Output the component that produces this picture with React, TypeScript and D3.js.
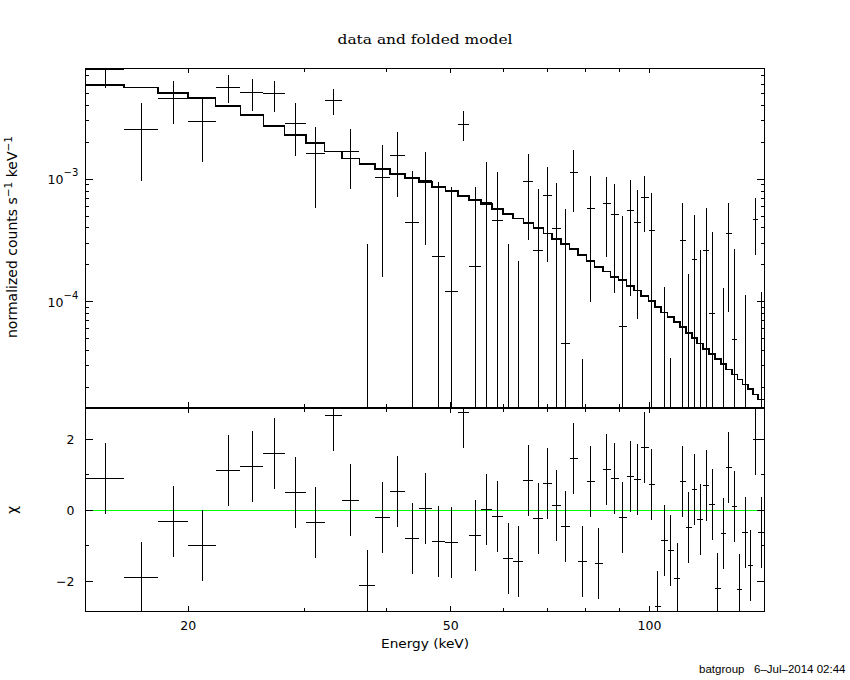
import React from "react";
import * as d3 from "d3";

// Energy bin edges (keV)
const energyEdges = [
  14, 16, 18, 20, 22, 24, 26, 28, 30.16, 32.18, 34.19, 36.35, 38.4, 40.46,
  42.64, 44.72, 46.84, 49.07, 51.24, 53.3, 55.58, 57.75, 60.01, 62.08, 64.41,
  66.7, 69.07, 71.2, 73.4, 75.67, 77.92, 80.29, 82.56, 85.02, 87.3, 89.77,
  92.31, 94.73, 97.07, 99.68, 101.93, 104.09, 106.51, 109.03, 111.18, 113.65,
  115.93, 118.1, 120.6, 123.15, 125.75, 128.28, 130.67, 133.3, 135.93, 138.33,
  141.11, 143.44, 146.12, 150,
];

// Folded model, units of 1e-3 counts s^-1 keV^-1
const modelRate = [
  5.89, 5.6, 5.07, 4.59, 3.99, 3.35, 2.73, 2.3, 1.97, 1.69, 1.48, 1.33, 1.21,
  1.105, 1.025, 0.951, 0.865, 0.798, 0.731, 0.678, 0.628, 0.572, 0.521, 0.48,
  0.437, 0.398, 0.362, 0.325, 0.296, 0.268, 0.241, 0.215, 0.193, 0.176, 0.16,
  0.15, 0.135, 0.123, 0.111, 0.1013, 0.091, 0.0819, 0.0754, 0.0679, 0.0618,
  0.0558, 0.0508, 0.0454, 0.0413, 0.0374, 0.034, 0.0311, 0.028, 0.0255, 0.0232,
  0.0211, 0.0193, 0.0175, 0.0159,
];

// Data, units of 1e-3 counts s^-1 keV^-1
const dataRate = [
  7.92, 2.56, 4.59, 2.98, 5.65, 5.14, 4.98, 2.87, 1.63, 4.42, 1.7, -0.632,
  1.038, 1.571, 0.445, 0.981, 0.235, 0.122, 2.813, 0.195, 0.65, 0.462, -0.339,
  -0.387, 0.963, 0.263, 0.74, 0.398, 0.0457, 1.141, -0.447, 0.58, -0.4775,
  0.6365, 0.518, 0.063, 0.551, 0.445, 0.7165, 0.385, -0.854, -0.198, -0.278,
  -0.508, 0.317, -0.048, 0.222, -0.0276, 0.263, 0.0804, -0.582, -0.153, 0.362,
  0.0493, -0.598, -0.1296, -0.366, 0.471, -0.154,
];

const dataError = [
  2.38, 1.6, 1.75, 1.6, 1.47, 1.5, 1.43, 1.32, 1.05, 1.06, 0.87, 0.93, 0.88,
  0.86, 0.72, 0.69, 0.716, 0.743, 0.77, 0.67, 0.73, 0.685, 0.637, 0.602, 0.643,
  0.57, 0.53, 0.535, 0.524, 0.6, 0.481, 0.48, 0.45, 0.405, 0.4, 0.44, 0.44,
  0.373, 0.345, 0.3875, 0.35, 0.329, 0.313, 0.3, 0.327, 0.2165, 0.292, 0.292,
  0.32, 0.293, 0.28, 0.283, 0.28, 0.22, 0.28, 0.243, 0.25, 0.23, 0.274,
];

// Residuals (chi)
const chiResidual = [
  0.9, -1.89, -0.31, -1.0, 1.13, 1.24, 1.59, 0.51, -0.34, 2.66,
  0.29, -2.11, -0.2, 0.54, -0.79, 0.06, -0.87, -0.9, 2.76, -0.7,
  0.03, -0.17, -1.35, -1.44, 0.83, -0.22, 0.76, 0.14, -0.45, 1.46,
  -1.43, 0.8, -1.49, 1.15, 0.9, -0.2, 0.96, 0.87, 1.77, 0.73,
  -2.7, -0.85, -1.13, -1.92, 0.82, -0.48, 0.59, -0.25, 0.7, 0.17,
  -2.2, -0.65, 1.21, 0.11, -2.22, -0.62, -1.54, 1.99, -0.62,
];

const xTickValues = [20, 30, 40, 50, 60, 70, 80, 90, 100];
const xLabelValues = [20, 50, 100];
const yMajorTicks = [1e-4, 1e-3];
const yMajorExponents = ["−4", "−3"];
const yMinorTicks = [
  2e-5, 3e-5, 4e-5, 5e-5, 6e-5, 7e-5, 8e-5, 9e-5,
  2e-4, 3e-4, 4e-4, 5e-4, 6e-4, 7e-4, 8e-4, 9e-4,
  2e-3, 3e-3, 4e-3, 5e-3, 6e-3, 7e-3, 8e-3,
];
const chiMajorTicks = [-2, 0, 2];
const chiMinorTicks = [-1, 1];
const chiTickLabels = ["−2", "0", "2"];

const UNIT = 1e-3;
const L = 85;
const R = 764.5;
const T1 = 68;
const B1 = 407;
const T2 = 408;
const B2 = 611;
const SANS = "'DejaVu Sans', sans-serif";

export default function App() {
  const x = d3.scaleLog().domain([13.95, 149.4]).range([L, R]);
  const y = d3.scaleLog().domain([1.38e-5, 8.11e-3]).range([B1, T1]);
  const c = d3.scaleLinear().domain([-2.83, 2.89]).range([B2, 407.5]);
  const yMin = y.domain()[0];
  const yPix = (v: number) => (v > yMin ? y(v) : B1 + 2);

  const bins = modelRate.map((m, i) => ({
    lo: energyEdges[i],
    hi: energyEdges[i + 1],
    mid: (energyEdges[i] + energyEdges[i + 1]) / 2,
    model: m * UNIT,
    data: dataRate[i] * UNIT,
    err: dataError[i] * UNIT,
    chi: chiResidual[i],
  }));

  const stepPts: [number, number][] = [];
  bins.forEach((b) => {
    stepPts.push([x(b.lo), y(b.model)]);
    stepPts.push([x(b.hi), y(b.model)]);
  });
  const modelPath = d3.line()(stepPts) || "";

  const majorX = (v: number) => xLabelValues.includes(v);

  return (
    <div style={{ position: "absolute", left: 0, top: 0, width: 850, height: 680, background: "#fff" }}>
      <svg width={850} height={680} viewBox="0 0 850 680" style={{ display: "block" }}>
        <rect x={0} y={0} width={850} height={680} fill="#fff" />
        <defs>
          <clipPath id="clipTop">
            <rect x={L} y={T1} width={R - L} height={B1 - T1} />
          </clipPath>
          <clipPath id="clipBot">
            <rect x={L} y={T2} width={R - L} height={B2 - T2} />
          </clipPath>
        </defs>

        {/* title */}
        <text x={425} y={43.5} textAnchor="middle" fontFamily="'DejaVu Serif', serif" fontSize={13}
          textLength={175} lengthAdjust="spacingAndGlyphs">data and folded model</text>

        {/* top panel: model */}
        <g clipPath="url(#clipTop)" shapeRendering="crispEdges">
          <path d={modelPath} fill="none" stroke="#000" strokeWidth={1.6} />
          {bins.map((b, i) => {
            const hiV = b.data + b.err;
            const loV = b.data - b.err;
            const showV = hiV > yMin;
            const showH = b.data > yMin;
            return (
              <g key={i} stroke="#000" strokeWidth={1}>
                {showV && (
                  <line x1={x(b.mid)} x2={x(b.mid)} y1={yPix(loV)} y2={y(hiV)} />
                )}
                {showH && (
                  <line x1={x(b.lo)} x2={x(b.hi)} y1={y(b.data)} y2={y(b.data)} />
                )}
              </g>
            );
          })}
        </g>

        {/* bottom panel: residuals */}
        <g clipPath="url(#clipBot)" shapeRendering="crispEdges">
          <line x1={L} x2={R} y1={c(0)} y2={c(0)} stroke="#00ff00" strokeWidth={1} />
          {bins.map((b, i) => (
            <g key={i} stroke="#000" strokeWidth={1}>
              <line x1={x(b.mid)} x2={x(b.mid)} y1={c(b.chi - 1)} y2={c(b.chi + 1)} />
              <line x1={x(b.lo)} x2={x(b.hi)} y1={c(b.chi)} y2={c(b.chi)} />
            </g>
          ))}
        </g>

        {/* frames and ticks */}
        <g stroke="#000" strokeWidth={1} fill="none" shapeRendering="crispEdges">
          <rect x={L} y={T1} width={R - L} height={B1 - T1} />
          <rect x={L} y={T2} width={R - L} height={B2 - T2} />
          {xTickValues.map((v) => {
            const len = majorX(v) ? 5 : 3.5;
            const px = x(v);
            return (
              <g key={v}>
                <line x1={px} x2={px} y1={T1} y2={T1 + len} />
                <line x1={px} x2={px} y1={B1} y2={B1 - len} />
                <line x1={px} x2={px} y1={T2} y2={T2 + len} />
                <line x1={px} x2={px} y1={B2} y2={B2 - len} />
              </g>
            );
          })}
          {yMajorTicks.map((v) => (
            <g key={v}>
              <line x1={L} x2={L + 8} y1={y(v)} y2={y(v)} />
              <line x1={R} x2={R - 8} y1={y(v)} y2={y(v)} />
            </g>
          ))}
          {yMinorTicks.map((v) => (
            <g key={v}>
              <line x1={L} x2={L + 4} y1={y(v)} y2={y(v)} />
              <line x1={R} x2={R - 4} y1={y(v)} y2={y(v)} />
            </g>
          ))}
          {chiMajorTicks.map((v) => (
            <g key={v}>
              <line x1={L} x2={L + 8} y1={c(v)} y2={c(v)} />
              <line x1={R} x2={R - 8} y1={c(v)} y2={c(v)} />
            </g>
          ))}
          {chiMinorTicks.map((v) => (
            <g key={v}>
              <line x1={L} x2={L + 4} y1={c(v)} y2={c(v)} />
              <line x1={R} x2={R - 4} y1={c(v)} y2={c(v)} />
            </g>
          ))}
        </g>

        {/* labels */}
        <g fontFamily={SANS} fill="#000">
          {yMajorTicks.map((v, i) => (
            <g key={v}>
              <text x={63.5} y={y(v) + 5.2} fontSize={12.5} textAnchor="end">10</text>
              <text x={63.5} y={y(v) - 3} fontSize={10}>{yMajorExponents[i]}</text>
            </g>
          ))}
          {chiMajorTicks.map((v, i) => (
            <text key={v} x={74.5} y={c(v) + 4.5} fontSize={12.5} textAnchor="end">{chiTickLabels[i]}</text>
          ))}
          {xLabelValues.map((v) => (
            <text key={v} x={x(v)} y={629.5} fontSize={12.5} textAnchor="middle">{String(v)}</text>
          ))}
          <text x={425} y={647.5} fontSize={12.5} textAnchor="middle" textLength={88}
            lengthAdjust="spacingAndGlyphs">Energy (keV)</text>
          <text transform="translate(17,237) rotate(-90)" fontSize={14} textAnchor="middle">
            normalized counts s<tspan fontSize={10.5} dy={-5}>−1</tspan>
            <tspan dy={5}> keV</tspan><tspan fontSize={10.5} dy={-5}>−1</tspan>
          </text>
          <text transform="translate(17,510) rotate(-90)" fontSize={14} textAnchor="middle">χ</text>
          <text x={845.5} y={672.5} fontSize={11.5} textAnchor="end"
            fontFamily="'Liberation Sans', sans-serif" style={{ whiteSpace: "pre" }}>{"batgroup   6–Jul–2014 02:44"}</text>
        </g>
      </svg>
    </div>
  );
}
